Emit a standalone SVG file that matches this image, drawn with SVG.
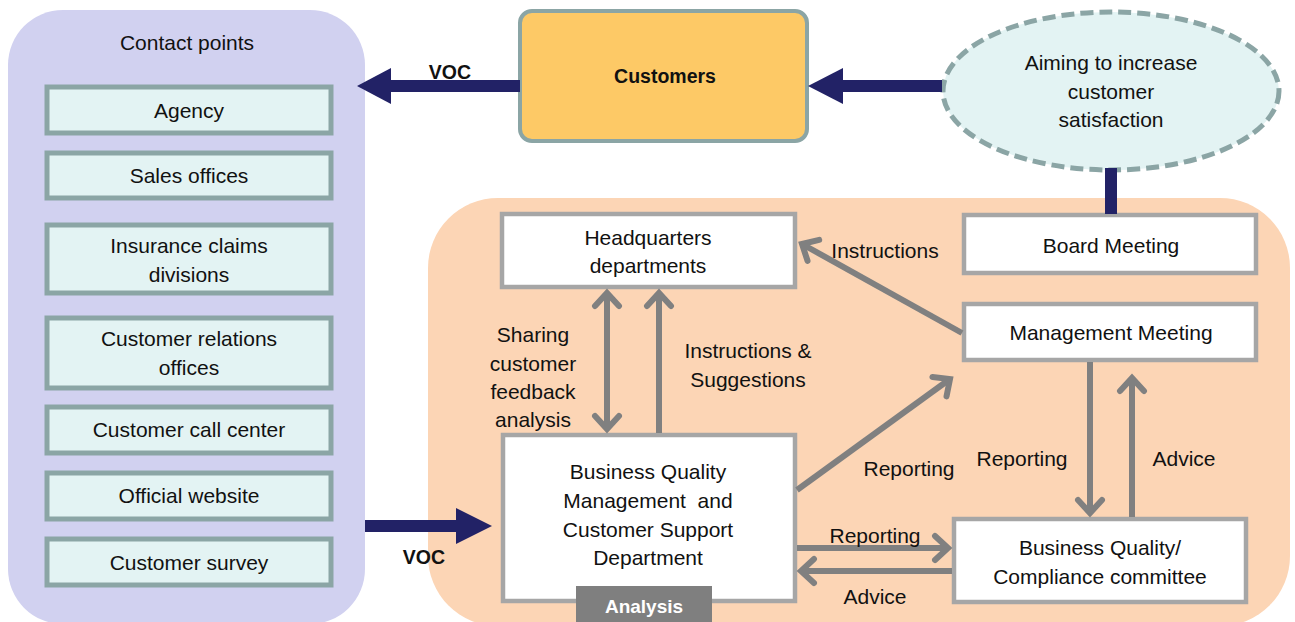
<svg xmlns="http://www.w3.org/2000/svg" width="1295" height="622" viewBox="0 0 1295 622">
<style>
text{font-family:"Liberation Sans",Arial,sans-serif;font-size:21px;fill:#111;text-anchor:middle;dominant-baseline:central}
.b{font-weight:bold;font-size:19.5px}
.cp{fill:#e3f3f3;stroke:#8ba5a5;stroke-width:5}
.wb{fill:#fff;stroke:#a6a6a6;stroke-width:4.5}
.ga{fill:none;stroke:#808080;stroke-width:6}
.nv{fill:#222266}
</style>
<defs>
<marker id="ah" viewBox="-20 -16 26 32" refX="0" refY="0" markerWidth="26" markerHeight="32" markerUnits="userSpaceOnUse" orient="auto-start-reverse">
<path d="M-13,-12 L0,0 L-13,12" fill="none" stroke="#808080" stroke-width="6" stroke-linecap="round" stroke-linejoin="miter"/>
</marker>
</defs>
<g id="contact-panel">
<rect x="8" y="10" width="357" height="614" rx="55" fill="#d1d1f0"/>
<text x="187" y="42">Contact points</text>
</g>
<g id="org-panel">
<rect x="428" y="198" width="862" height="428" rx="70" fill="#fcd5b5"/>
</g>
<g id="agency"><rect class="cp" x="47" y="87" width="284" height="46"/><text x="189" y="110">Agency</text></g>
<g id="sales"><rect class="cp" x="47" y="153" width="284" height="45"/><text x="189" y="175">Sales offices</text></g>
<g id="claims"><rect class="cp" x="47" y="225" width="284" height="68"/><text x="189" y="245">Insurance claims</text><text x="189" y="274">divisions</text></g>
<g id="relations"><rect class="cp" x="47" y="318" width="284" height="70"/><text x="189" y="338">Customer relations</text><text x="189" y="367">offices</text></g>
<g id="callcenter"><rect class="cp" x="47" y="407" width="284" height="46"/><text x="189" y="429">Customer call center</text></g>
<g id="website"><rect class="cp" x="47" y="473" width="284" height="46"/><text x="189" y="495">Official website</text></g>
<g id="survey"><rect class="cp" x="47" y="539" width="284" height="46"/><text x="189" y="562">Customer survey</text></g>
<g id="customers"><rect x="520" y="11" width="287" height="130" rx="12" fill="#fdc966" stroke="#8ba5a5" stroke-width="4"/><text class="b" x="665" y="76">Customers</text></g>
<g id="aim"><ellipse cx="1111" cy="91" rx="168" ry="79" fill="#e3f3f3" stroke="#8ba5a5" stroke-width="5" stroke-dasharray="13,6"/><text x="1111" y="62">Aiming to increase</text><text x="1111" y="91">customer</text><text x="1111" y="119">satisfaction</text></g>
<g id="hq"><rect class="wb" x="502" y="214" width="293" height="73"/><text x="648" y="237">Headquarters</text><text x="648" y="265">departments</text></g>
<g id="board"><rect class="wb" x="964" y="215" width="292" height="58"/><text x="1111" y="245">Board Meeting</text></g>
<g id="mgmt"><rect class="wb" x="964" y="304" width="292" height="56"/><text x="1111" y="332">Management Meeting</text></g>
<g id="committee"><rect class="wb" x="954" y="519" width="292" height="83"/><text x="1100" y="547">Business Quality/</text><text x="1100" y="576">Compliance committee</text></g>
<g id="bqm"><rect class="wb" x="503" y="435" width="292" height="166"/><text x="648" y="471">Business Quality</text><text x="648" y="500" xml:space="preserve">Management  and</text><text x="648" y="529">Customer Support</text><text x="648" y="557">Department</text>
<rect x="576" y="586" width="136" height="40" fill="#7f7f7f"/><text class="b" x="644" y="606" style="fill:#fff;font-size:19px">Analysis</text></g>
<g id="connectors">
<rect class="nv" x="390" y="80" width="130" height="12"/><polygon class="nv" points="357,86 391,68 391,104"/>
<rect class="nv" x="842" y="80" width="100" height="12"/><polygon class="nv" points="808,86 843,68 843,104"/>
<rect class="nv" x="1105" y="168" width="12" height="46"/>
<rect class="nv" x="365" y="520" width="92" height="12"/><polygon class="nv" points="492,526 456,508 456,544"/>
<line class="ga" x1="607" y1="293" x2="607" y2="429" marker-start="url(#ah)" marker-end="url(#ah)"/>
<line class="ga" x1="659" y1="433" x2="659" y2="293" marker-end="url(#ah)"/>
<line class="ga" x1="962" y1="333" x2="802" y2="244" marker-end="url(#ah)"/>
<line class="ga" x1="797" y1="490" x2="950" y2="379" marker-end="url(#ah)"/>
<line class="ga" x1="797" y1="548" x2="948" y2="548" marker-end="url(#ah)"/>
<line class="ga" x1="952" y1="571" x2="801" y2="571" marker-end="url(#ah)"/>
<line class="ga" x1="1090" y1="362" x2="1090" y2="513" marker-end="url(#ah)"/>
<line class="ga" x1="1132" y1="517" x2="1132" y2="378" marker-end="url(#ah)"/>
<text class="b" x="450" y="72">VOC</text>
<text class="b" x="424" y="557">VOC</text>
<text x="885" y="250">Instructions</text>
<text x="533" y="334">Sharing</text><text x="533" y="363">customer</text><text x="533" y="391">feedback</text><text x="533" y="419">analysis</text>
<text x="748" y="350">Instructions &amp;</text><text x="748" y="379">Suggestions</text>
<text x="909" y="468">Reporting</text>
<text x="1022" y="458">Reporting</text>
<text x="1184" y="458">Advice</text>
<text x="875" y="535">Reporting</text>
<text x="875" y="596">Advice</text>
</g>
</svg>
